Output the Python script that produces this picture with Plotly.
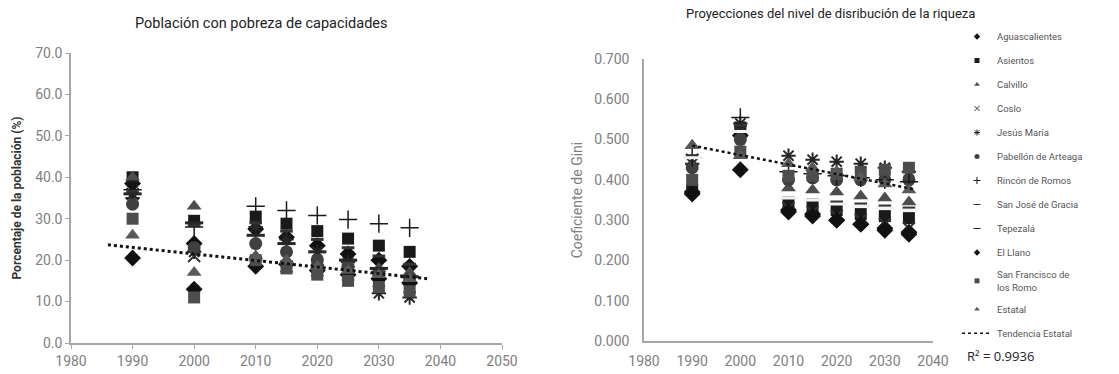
import plotly.graph_objects as go

years = [1990, 2000, 2010, 2015, 2020, 2025, 2030, 2035]

series_names = ["Aguascalientes", "Asientos", "Calvillo", "Coslo", "Jesús María",
                "Pabellón de Arteaga", "Rincón de Romos", "San José de Gracia",
                "Tepezalá", "El Llano", "San Francisco de<br>los Romo", "Estatal"]

# Left chart: Población con pobreza de capacidades (%)
pobreza = {
    "Aguascalientes":      [38.5, 24.0, 27.5, 25.5, 23.5, 21.5, 20.0, 18.5],
    "Asientos":            [40.0, 29.5, 30.5, 28.8, 27.0, 25.2, 23.5, 22.0],
    "Calvillo":            [40.0, 33.0, 21.0, 20.0, 19.5, 19.0, 18.0, 17.0],
    "Coslo":               [36.0, 21.0, 19.5, 18.5, 17.5, 16.5, 15.0, 13.5],
    "Jesús María":         [35.0, 22.0, 28.0, 25.0, 22.0, 19.5, 12.0, 11.0],
    "Pabellón de Arteaga": [33.5, 23.0, 24.0, 22.0, 20.0, 18.5, 17.0, 15.5],
    "Rincón de Romos":     [37.0, 28.0, 33.0, 32.0, 30.8, 29.8, 28.8, 27.8],
    "San José de Gracia":  [36.5, 28.5, 29.0, 27.0, 25.0, 23.0, 21.0, 19.0],
    "Tepezalá":            [36.0, 29.0, 26.0, 24.0, 22.0, 20.0, 18.0, 16.0],
    "El Llano":            [20.5, 13.0, 18.5, 19.0, 17.5, 16.5, 15.5, 14.5],
    "San Francisco de<br>los Romo": [30.0, 11.0, 20.0, 18.0, 16.5, 15.0, 13.5, 12.5],
    "Estatal":             [26.0, 17.0, 20.5, 20.0, 18.5, 17.5, 16.5, 15.5],
}
trend_pobreza_x = [1986, 2038]
trend_pobreza_y = [23.7, 15.5]

# Right chart: Coeficiente de Gini
gini = {
    "Aguascalientes":      [0.370, 0.510, 0.325, 0.315, 0.300, 0.290, 0.280, 0.270],
    "Asientos":            [0.375, 0.530, 0.340, 0.335, 0.325, 0.315, 0.310, 0.305],
    "Calvillo":            [0.485, 0.460, 0.380, 0.375, 0.370, 0.360, 0.355, 0.345],
    "Coslo":               [0.450, 0.520, 0.330, 0.320, 0.310, 0.300, 0.290, 0.280],
    "Jesús María":         [0.440, 0.540, 0.460, 0.450, 0.445, 0.440, 0.430, 0.420],
    "Pabellón de Arteaga": [0.430, 0.500, 0.400, 0.405, 0.400, 0.400, 0.400, 0.400],
    "Rincón de Romos":     [0.455, 0.555, 0.420, 0.415, 0.410, 0.405, 0.400, 0.395],
    "San José de Gracia":  [0.460, 0.535, 0.355, 0.350, 0.345, 0.340, 0.335, 0.330],
    "Tepezalá":            [0.455, 0.520, 0.355, 0.350, 0.340, 0.335, 0.330, 0.325],
    "El Llano":            [0.365, 0.425, 0.320, 0.310, 0.300, 0.290, 0.275, 0.265],
    "San Francisco de<br>los Romo": [0.400, 0.470, 0.410, 0.410, 0.415, 0.420, 0.425, 0.430],
    "Estatal":             [0.485, 0.460, 0.440, 0.430, 0.420, 0.405, 0.390, 0.375],
}
trend_gini_x = [1990, 2036]
trend_gini_y = [0.485, 0.377]
r2_text = "R² = 0.9936"

left_xticks = [1980, 1990, 2000, 2010, 2020, 2030, 2040, 2050]
left_yticks = [0, 10, 20, 30, 40, 50, 60, 70]
right_xticks = [1980, 1990, 2000, 2010, 2020, 2030, 2040]
right_yticks = [0, 0.1, 0.2, 0.3, 0.4, 0.5, 0.6, 0.7]

styles = {
    "Aguascalientes":      dict(symbol="diamond", color="#111111", size=13),
    "Asientos":            dict(symbol="square", color="#1a1a1a", size=12),
    "Calvillo":            dict(symbol="triangle-up", color="#4d4d4d", size=13),
    "Coslo":               dict(symbol="x-thin-open", color="#333333", size=12, lw=2),
    "Jesús María":         dict(symbol="asterisk-open", color="#262626", size=12, lw=2),
    "Pabellón de Arteaga": dict(symbol="circle", color="#404040", size=13),
    "Rincón de Romos":     dict(symbol="cross-thin-open", color="#1a1a1a", size=13, lw=1.5),
    "San José de Gracia":  dict(symbol="line-ew-open", color="#333333", size=9, lw=3),
    "Tepezalá":            dict(symbol="line-ew-open", color="#262626", size=13, lw=3),
    "El Llano":            dict(symbol="diamond", color="#111111", size=13),
    "San Francisco de<br>los Romo": dict(symbol="square", color="#4d4d4d", size=12),
    "Estatal":             dict(symbol="triangle-up", color="#595959", size=13),
}
# in the Gini chart the Tepezalá dashes show up as light bars
gini_color_override = {"Tepezalá": "#f2f2f2"}

fig = go.Figure()

def add_series(data, xa, ya, overrides=None):
    overrides = overrides or {}
    for name in series_names:
        st = styles[name]
        col = overrides.get(name, st["color"])
        fig.add_trace(go.Scatter(
            x=years, y=data[name], mode="markers", name=name, showlegend=False,
            xaxis=xa, yaxis=ya, hoverinfo="skip",
            marker=dict(symbol=st["symbol"], size=st["size"], color=col,
                        line=dict(color=col, width=st.get("lw", 0))),
        ))

add_series(pobreza, "x", "y")
fig.add_trace(go.Scatter(x=trend_pobreza_x, y=trend_pobreza_y, mode="lines", showlegend=False,
                         xaxis="x", yaxis="y", hoverinfo="skip",
                         line=dict(color="#111111", width=3, dash="dot")))
add_series(gini, "x2", "y2", gini_color_override)
fig.add_trace(go.Scatter(x=trend_gini_x, y=trend_gini_y, mode="lines", showlegend=False,
                         xaxis="x2", yaxis="y2", hoverinfo="skip",
                         line=dict(color="#111111", width=2.5, dash="dot")))

# legend entries
for i, name in enumerate(series_names):
    st = styles[name]
    fig.add_trace(go.Scatter(
        x=[None], y=[None], mode="markers", name=name, legendgroup=f"g{i}",
        xaxis="x2", yaxis="y2",
        marker=dict(symbol=st["symbol"], size=5, color=st["color"],
                    line=dict(color=st["color"], width=1 if st.get("lw") else 0)),
    ))
fig.add_trace(go.Scatter(x=[None], y=[None], mode="lines", name="Tendencia Estatal",
                         legendgroup="gt", xaxis="x2", yaxis="y2",
                         line=dict(color="#111111", width=1.5, dash="dot")))

W, H = 1119, 374
tick_font = dict(family="Roboto", size=14, color="#808080")
fig.update_layout(
    width=W, height=H, margin=dict(l=0, r=0, t=0, b=0),
    paper_bgcolor="white", plot_bgcolor="white",
    xaxis=dict(domain=[71 / W, 502 / W], range=[1980, 2050], tickvals=left_xticks,
               showgrid=False, zeroline=False, showline=True, linecolor="#a6a6a6", linewidth=1.5,
               ticks="outside", ticklen=4, tickcolor="#a6a6a6", tickfont=tick_font, anchor="y",
               automargin=False),
    yaxis=dict(domain=[1 - 343 / H, 1 - 53 / H], range=[0, 70], tickvals=left_yticks,
               tickformat=".1f", showgrid=False, zeroline=False, showline=True,
               linecolor="#a6a6a6", linewidth=1.5, ticks="outside", ticklen=4, tickcolor="#a6a6a6",
               tickfont=tick_font, anchor="x", automargin=False,
               title=dict(text="<b>Porcentaje de la población (%)</b>",
                          font=dict(family="Roboto", size=12, color="#333333"), standoff=11)),
    xaxis2=dict(domain=[644 / W, 933 / W], range=[1980, 2040], tickvals=right_xticks,
                showgrid=False, zeroline=False, showline=True, linecolor="#a6a6a6", linewidth=1.5,
                ticks="", tickfont=tick_font, anchor="y2", ticklabelstandoff=6, automargin=False),
    yaxis2=dict(domain=[1 - 341 / H, 1 - 59 / H], range=[0, 0.7], tickvals=right_yticks,
                tickformat=".3f", showgrid=False, zeroline=False, showline=True,
                linecolor="#a6a6a6", linewidth=1.5, ticks="", tickfont=tick_font, anchor="x2",
                ticklabelstandoff=10, automargin=False,
                title=dict(text="Coeficiente de Gini",
                           font=dict(family="Roboto", size=14, color="#808080"), standoff=8)),
    legend=dict(x=957 / W, xanchor="left", y=1 - 22 / H, yanchor="top",
                font=dict(family="Roboto", size=9.5, color="#555555"),
                tracegroupgap=5.0, itemwidth=30, bgcolor="rgba(0,0,0,0)"),
    annotations=[
        dict(text="Población con pobreza de capacidades", x=261 / W, y=1 - 23 / H,
             xref="paper", yref="paper", showarrow=False, xanchor="center", yanchor="middle",
             font=dict(family="Roboto", size=14.5, color="#222222")),
        dict(text="Proyecciones del nivel de disribución de la riqueza", x=830 / W, y=1 - 13 / H,
             xref="paper", yref="paper", showarrow=False, xanchor="center", yanchor="middle",
             font=dict(family="Roboto", size=13, color="#222222")),
        dict(text=r2_text, x=965 / W, y=1 - 356 / H, xref="paper", yref="paper",
             showarrow=False, xanchor="left", yanchor="middle",
             font=dict(family="Open Sans", size=13, color="#222222")),
    ],
)

fig.write_html("out.html", config={"displayModeBar": False},
               post_script="document.body.style.margin='0';document.body.style.padding='0';")
